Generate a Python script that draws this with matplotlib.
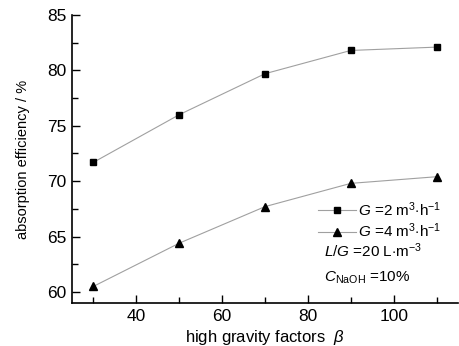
import matplotlib.pyplot as plt
from matplotlib.ticker import MultipleLocator
from matplotlib import font_manager

beta = [30, 50, 70, 90, 110]
eff_g2 = [71.7, 76.0, 79.7, 81.8, 82.1]
eff_g4 = [60.5, 64.4, 67.7, 69.8, 70.4]

names = {f.name for f in font_manager.fontManager.ttflist}
fam = 'Liberation Sans Narrow' if 'Liberation Sans Narrow' in names else 'Liberation Sans'
plt.rcParams['font.family'] = fam
plt.rcParams['mathtext.fontset'] = 'custom'
plt.rcParams['mathtext.rm'] = fam
plt.rcParams['mathtext.it'] = fam + ':italic'

W, H = 460, 346
fig = plt.figure(figsize=(W / 100, H / 100), dpi=100)
ax = fig.add_axes([72 / W, 1 - 303 / H, (458 - 72) / W, (303 - 15) / H])

ax.plot(beta, eff_g2, color='#a0a0a0', lw=0.8, marker='s', ms=4.5, mfc='black', mec='black',
        label=r'$G$ =2 m$^{3}$$\cdot$h$^{-1}$')
ax.plot(beta, eff_g4, color='#a0a0a0', lw=0.8, marker='^', ms=6, mfc='black', mec='black',
        label=r'$G$ =4 m$^{3}$$\cdot$h$^{-1}$')

ax.set_xlim(25, 115)
ax.set_ylim(59, 85)
ax.xaxis.set_major_locator(MultipleLocator(20))
ax.xaxis.set_minor_locator(MultipleLocator(10))
ax.yaxis.set_major_locator(MultipleLocator(5))
ax.yaxis.set_minor_locator(MultipleLocator(2.5))
ax.tick_params(which='both', direction='in', labelsize=12.5, width=1)
ax.tick_params(which='major', length=6, pad=4)
ax.tick_params(which='minor', length=4)
ax.spines['top'].set_visible(False)
ax.spines['right'].set_visible(False)
for s in ('left', 'bottom'):
    ax.spines[s].set_linewidth(1.2)

ax.set_ylabel('absorption efficiency / %', fontsize=10.5, labelpad=12)
ax.set_xlabel(r'high gravity factors  $\beta$', fontsize=12, labelpad=3)

leg = fig.legend(loc='upper left', bbox_to_anchor=(318 / W, 1 - 200 / H), frameon=False,
                 fontsize=11, handlelength=2.5, handletextpad=0.15, labelspacing=0.2,
                 borderpad=0, borderaxespad=0)
fig.text(324 / W, 1 - 251 / H, r'$L$/$G$ =20 L$\cdot$m$^{-3}$', fontsize=11, va='center')
fig.text(324 / W, 1 - 278 / H, r'$C$$_{\rm NaOH}$ =10%', fontsize=11, va='center')

fig.savefig('out.png', dpi=100)
